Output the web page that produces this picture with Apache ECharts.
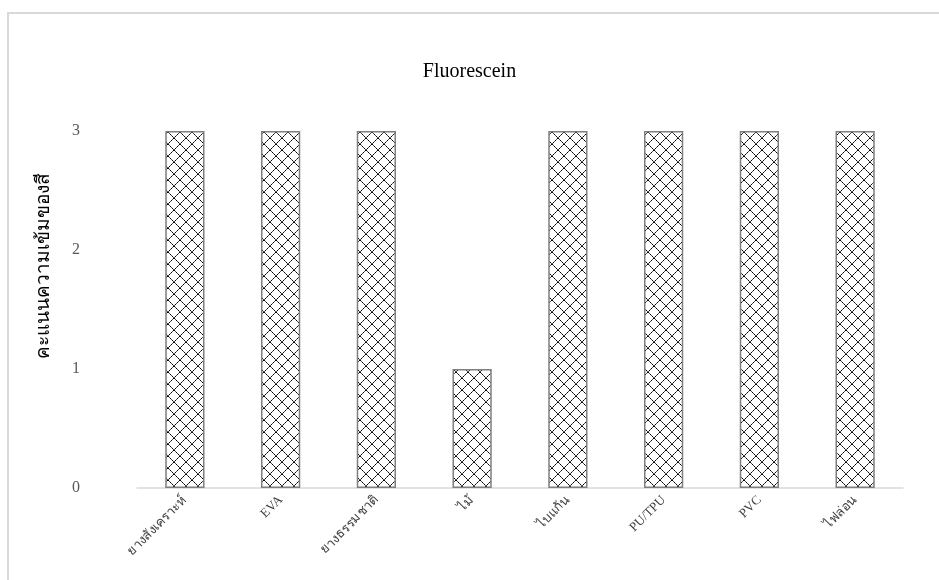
<!DOCTYPE html>
<html>
<head>
<meta charset="utf-8">
<script src="https://cdn.jsdelivr.net/npm/echarts@6/dist/echarts.min.js"></script>
<style>
  html, body { margin: 0; padding: 0; background: #fff; }
  #chart { width: 939px; height: 580px; }
</style>
</head>
<body>
<div id="chart"></div>
<script>
// Material categories and their colour-intensity scores
const categories = ['ยางสังเคราะห์', 'EVA', 'ยางธรรมชาติ', 'ไม้', 'ไบแก้น', 'PU/TPU', 'PVC', 'ไฟล่อน'];
const scores = [3, 3, 3, 1, 3, 3, 3, 3];
const yTicks = [0, 1, 2, 3];

const chartTitle = 'Fluorescein';
const yAxisTitle = 'คะแนนความเข้มของสี';

// Dotted diamond lattice used to fill the bars
function makeLattice() {
  const s = 12;
  const c = document.createElement('canvas');
  c.width = s; c.height = s;
  const g = c.getContext('2d');
  g.fillStyle = '#ffffff';
  g.fillRect(0, 0, s, s);
  g.fillStyle = '#000000';
  for (let i = 0; i < s; i++) {
    g.globalAlpha = i % 2 === 0 ? 1 : 0.7;
    g.fillRect(i, i, 1, 1);
    g.fillRect(s - 1 - i, i, 1, 1);
  }
  g.globalAlpha = 1;
  return c;
}

const serif = '"Liberation Serif", "Times New Roman", "DejaVu Serif", serif';

const chart = echarts.init(document.getElementById('chart'));
chart.setOption({
  animation: false,
  backgroundColor: '#ffffff',
  title: {
    text: chartTitle,
    left: 'center',
    top: 57,
    textStyle: { fontFamily: serif, fontSize: 20, fontWeight: 'normal', color: '#000000' }
  },
  graphic: [{
    type: 'rect',
    shape: { x: 8, y: 13, width: 960, height: 600 },
    style: { fill: 'none', stroke: '#d9d9d9', lineWidth: 2 },
    silent: true,
    z: -1
  }, {
    // vertical axis title
    type: 'text',
    x: 44,
    y: 266,
    rotation: Math.PI / 2,
    style: {
      text: yAxisTitle,
      font: '19px ' + serif,
      fill: '#000000',
      align: 'center',
      verticalAlign: 'middle'
    },
    silent: true
  }],
  grid: { left: 137, right: 36, top: 131, bottom: 92 },
  xAxis: {
    type: 'category',
    data: categories,
    axisLine: { lineStyle: { color: '#d9d9d9', width: 1.5 } },
    axisTick: { show: false },
    axisLabel: {
      rotate: 45,
      margin: 10,
      fontFamily: serif,
      fontSize: 13,
      color: '#404040'
    }
  },
  yAxis: {
    type: 'value',
    min: 0,
    max: 3,
    interval: 1,
    axisLine: { show: false },
    axisTick: { show: false },
    splitLine: { show: false },
    axisLabel: {
      margin: 57,
      fontFamily: serif,
      fontSize: 16,
      color: '#595959',
      formatter: v => yTicks.includes(v) ? String(v) : ''
    }
  },
  series: [{
    type: 'bar',
    data: scores,
    barWidth: '41%',
    itemStyle: {
      color: { image: makeLattice(), repeat: 'repeat' },
      borderColor: '#7f7f7f',
      borderWidth: 1.5
    }
  }]
});
</script>
</body>
</html>
